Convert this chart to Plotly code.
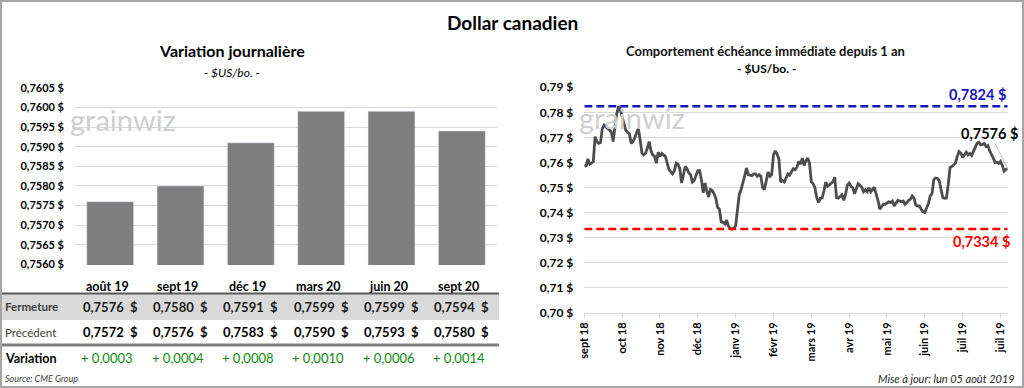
import plotly.graph_objects as go

W, H = 1024, 388
def px(x): return x / W
def py(y): return 1 - y / H

FONT = "Lato, 'Open Sans', sans-serif"

# ---------------- Left chart / table data ----------------
contracts = ["août 19", "sept 19", "déc 19", "mars 20", "juin 20", "sept 20"]
closes = [0.7576, 0.7580, 0.7591, 0.7599, 0.7599, 0.7594]
previous = [0.7572, 0.7576, 0.7583, 0.7590, 0.7593, 0.7580]
variation = [0.0003, 0.0004, 0.0008, 0.0010, 0.0006, 0.0014]
row_labels = ["Fermeture", "Précédent", "Variation"]

# ---------------- Right chart data ----------------
month_labels = ["sept 18", "oct 18", "nov 18", "déc 18", "janv 19", "févr 19",
                "mars 19", "avr 19", "mai 19", "juin 19", "juil 19", "juil 19"]
label_step = 21  # trading days between labels
prices = [
    0.7591, 0.7584, 0.7614, 0.7593, 0.7597, 0.7604, 0.7703, 0.7683, 0.7676, 0.7679,
    0.7736, 0.7749, 0.7742, 0.7736, 0.7729, 0.7722, 0.7683, 0.7736, 0.7795, 0.7824,
    0.7812, 0.7782, 0.7749, 0.7729, 0.7720, 0.7715, 0.7676, 0.7683, 0.7699, 0.7716,
    0.7736, 0.7690, 0.7637, 0.7630, 0.7637, 0.7657, 0.7683, 0.7646, 0.7630, 0.7624,
    0.7597, 0.7641, 0.7624, 0.7636, 0.7630, 0.7624, 0.7597, 0.7571, 0.7562, 0.7554,
    0.7567, 0.7597, 0.7593, 0.7575, 0.7518, 0.7551, 0.7584, 0.7575, 0.7558, 0.7551,
    0.7522, 0.7528, 0.7551, 0.7567, 0.7567, 0.7532, 0.7479, 0.7518, 0.7486, 0.7462,
    0.7492, 0.7488, 0.7475, 0.7457, 0.7420, 0.7413, 0.7363, 0.7361, 0.7354, 0.7370,
    0.7346, 0.7337, 0.7334, 0.7337, 0.7347, 0.7407, 0.7472, 0.7492, 0.7515, 0.7545,
    0.7578, 0.7551, 0.7549, 0.7547, 0.7554, 0.7554, 0.7545, 0.7551, 0.7545, 0.7499,
    0.7492, 0.7522, 0.7562, 0.7545, 0.7551, 0.7630, 0.7646, 0.7633, 0.7614, 0.7522,
    0.7528, 0.7522, 0.7541, 0.7554, 0.7549, 0.7562, 0.7575, 0.7571, 0.7580, 0.7604,
    0.7593, 0.7617, 0.7588, 0.7607, 0.7617, 0.7597, 0.7522, 0.7515, 0.7499, 0.7459,
    0.7440, 0.7457, 0.7458, 0.7486, 0.7522, 0.7505, 0.7512, 0.7515, 0.7522, 0.7541,
    0.7459, 0.7458, 0.7466, 0.7470, 0.7449, 0.7472, 0.7509, 0.7517, 0.7505, 0.7499,
    0.7475, 0.7496, 0.7515, 0.7509, 0.7501, 0.7483, 0.7491, 0.7483, 0.7499, 0.7483,
    0.7491, 0.7501, 0.7472, 0.7449, 0.7413, 0.7426, 0.7433, 0.7433, 0.7440, 0.7443,
    0.7440, 0.7446, 0.7426, 0.7436, 0.7449, 0.7446, 0.7443, 0.7446, 0.7433, 0.7440,
    0.7449, 0.7453, 0.7466, 0.7457, 0.7430, 0.7426, 0.7426, 0.7413, 0.7403, 0.7400,
    0.7417, 0.7436, 0.7466, 0.7475, 0.7532, 0.7538, 0.7536, 0.7528, 0.7492, 0.7459,
    0.7457, 0.7458, 0.7512, 0.7580, 0.7584, 0.7591, 0.7597, 0.7624, 0.7643, 0.7637,
    0.7620, 0.7630, 0.7641, 0.7630, 0.7636, 0.7628, 0.7646, 0.7662, 0.7676, 0.7680,
    0.7670, 0.7672, 0.7675, 0.7663, 0.7667, 0.7646, 0.7633, 0.7617, 0.7600, 0.7601,
    0.7596, 0.7604, 0.7588, 0.7565, 0.7572, 0.7576,
]
days = list(range(len(prices)))


def fr(v, d=4):
    return f"{v:.{d}f}".replace(".", ",")


fig = go.Figure()

fig.add_trace(go.Bar(
    x=contracts, y=closes, marker_color="#7F7F7F", xaxis="x", yaxis="y",
    showlegend=False, hoverinfo="skip",
))
fig.add_trace(go.Scatter(
    x=days, y=prices, mode="lines", line=dict(color="#4D4D4D", width=2.8),
    xaxis="x2", yaxis="y2", showlegend=False, hoverinfo="skip",
))

ann = []
def text(x, y, s, size, bold=False, italic=False, color="#000000",
         xanchor="center", yanchor="middle", **kw):
    f = dict(family=FONT, size=size, color=color)
    if bold:
        f["weight"] = "bold"
    if italic:
        f["style"] = "italic"
    d = dict(x=x, y=y, text=s, showarrow=False, font=f,
             xanchor=xanchor, yanchor=yanchor)
    d.setdefault("xref", "paper")
    d.setdefault("yref", "paper")
    d.update(kw)
    ann.append(d)

# titles
text(px(512), py(22), "Dollar canadien", 19, bold=True)
text(px(232), py(51), "Variation journalière", 16, bold=True)
text(px(232), py(72), "- $US/bo. -", 12, italic=True)
text(px(765), py(51), "Comportement échéance immédiate depuis 1 an", 13, bold=True, color="#111111")
text(px(766), py(68.5), "- $US/bo. -", 12, bold=True)

# watermarks
text(px(123), py(119), "grainwiz", 29, color="#CFCFCF")
text(px(632), py(117), "grainwiz", 29, color="#CFCFCF")

# table
for i, c in enumerate(contracts):
    text(c, py(286), c, 12.5, bold=True, xref="x", xshift=-3)
    text(c, py(306.5), f"{fr(closes[i])}  $", 13, bold=True, color="#1A1A1A", xref="x")
    text(c, py(332), f"{fr(previous[i])}  $", 13, bold=True, xref="x")
    sign = "+" if variation[i] >= 0 else "-"
    text(c, py(358), f"{sign} {fr(abs(variation[i]))}", 13, color="#118A11", xref="x", xshift=-3)

text(px(3), py(306.5), row_labels[0], 11.5, bold=True, color="#404040", xanchor="left")
text(px(3), py(332), row_labels[1], 11.5, color="#404040", xanchor="left")
text(px(3), py(358), row_labels[2], 12.5, bold=True, xanchor="left")
text(px(3), py(378), "Source: CME Group", 9, italic=True, color="#404040", xanchor="left")
text(px(1017), py(378), "Mise à jour: lun 05 août 2019", 11, italic=True, color="#262626", xanchor="right")

# right chart labels
vmax, vmin = max(prices), min(prices)
last = len(prices) - 1
text(1, vmax, f"{fr(vmax)} $", 14.5, bold=True, color="#1414C0", xref="x2 domain", yref="y2",
     xanchor="right", yanchor="bottom", yshift=1)
text(1.01, vmin, f"{fr(vmin)} $", 14.5, bold=True, color="#FF0000", xref="x2 domain", yref="y2",
     xanchor="right", yanchor="top", yshift=-2)
ann.append(dict(
    x=days[last], y=prices[last], xref="x2", yref="y2", text=f"{fr(prices[last])} $",
    showarrow=True, arrowhead=0, arrowwidth=1, arrowcolor="#BFBFBF", ax=-18, ay=-35,
    standoff=0, font=dict(family=FONT, size=14.5, color="#000000", weight="bold"),
))

shapes = [
    dict(type="rect", xref="paper", yref="paper", x0=px(0), x1=px(499), y0=py(320), y1=py(293),
         fillcolor="#D9D9D9", line=dict(width=0), layer="below"),
    dict(type="line", xref="paper", yref="paper", x0=px(0), x1=px(499), y0=py(293.5), y1=py(293.5),
         line=dict(color="#595959", width=2)),
    dict(type="line", xref="paper", yref="paper", x0=px(0), x1=px(499), y0=py(345), y1=py(345),
         line=dict(color="#808080", width=3)),
    dict(type="line", xref="x2", yref="y2", x0=0, x1=last, y0=vmax, y1=vmax,
         line=dict(color="#1414C0", width=2.5, dash="8px,4px")),
    dict(type="line", xref="x2", yref="y2", x0=0, x1=last, y0=vmin, y1=vmin,
         line=dict(color="#FF0000", width=2.5, dash="8px,4px")),
    dict(type="rect", xref="paper", yref="paper", x0=px(1), x1=px(1023), y0=py(387), y1=py(1),
         line=dict(color="#A6A6A6", width=2), fillcolor="rgba(0,0,0,0)"),
]

tickfont_l = dict(family=FONT, size=11, color="#000000", weight="bold")
tickfont_r = dict(family=FONT, size=12, color="#000000", weight="bold")

fig.update_layout(
    width=W, height=H, autosize=False,
    margin=dict(l=0, r=0, t=0, b=0),
    paper_bgcolor="white", plot_bgcolor="white",
    separators=", ",
    bargap=0.333,
    font=dict(family=FONT),
    xaxis=dict(domain=[px(75), px(497)], showticklabels=False, showgrid=False,
               zeroline=False, showline=False, ticks="", automargin=False),
    yaxis=dict(domain=[py(265), py(87.3)], range=[0.75599, 0.76051], tick0=0.756, dtick=0.0005,
               tickformat=".4f", ticksuffix=" $", gridcolor="#D9D9D9", gridwidth=1,
               zeroline=False, tickfont=tickfont_l, ticklabelstandoff=10, automargin=False),
    xaxis2=dict(domain=[px(584.3), px(1007.7)], range=[0, last], anchor="y2",
                tickvals=[i * label_step for i in range(len(month_labels))], ticktext=month_labels,
                tickangle=-90, tickfont=tickfont_l, showgrid=False, zeroline=False,
                showline=True, linecolor="#D9D9D9", linewidth=1,
                ticks="outside", ticklen=4, tickcolor="#D9D9D9", automargin=False),
    yaxis2=dict(domain=[py(313), py(87)], range=[0.6999, 0.7901], anchor="x2", tick0=0.70, dtick=0.01,
                tickformat=".2f", ticksuffix=" $", gridcolor="#D9D9D9", gridwidth=1,
                zeroline=False, tickfont=tickfont_r, ticklabelstandoff=10, automargin=False),
    annotations=ann,
    shapes=shapes,
)

fig.write_html("out.html", config={"displayModeBar": False},
               post_script="document.body.style.margin='0';document.body.style.overflow='hidden';")
